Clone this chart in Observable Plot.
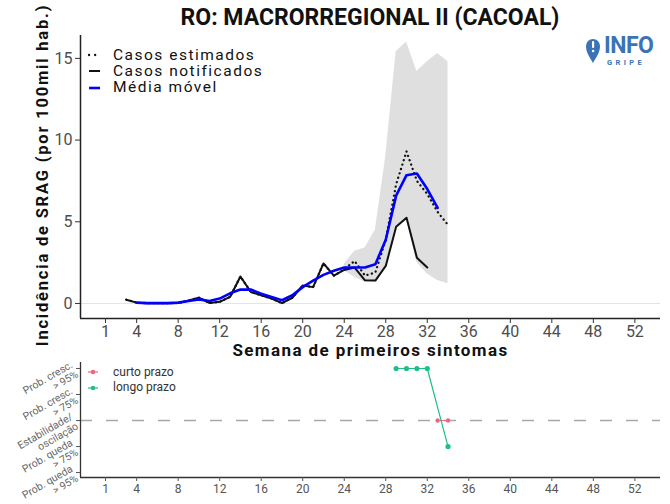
<!DOCTYPE html>
<html><head><meta charset="utf-8">
<script src="https://cdn.jsdelivr.net/npm/d3@7"></script>
<script src="https://cdn.jsdelivr.net/npm/@observablehq/plot@0.6"></script>
<style>
body{margin:0;background:#fff;font-family:Roboto,sans-serif;}
#wrap{position:relative;width:670px;height:504px;overflow:hidden;background:#fff;}
.abs{position:absolute;}
#title{left:120px;width:500px;top:5px;text-align:center;font:700 23px Roboto;line-height:26px;color:#111;white-space:nowrap;}
.leg{font:400 15.5px Roboto;line-height:15px;color:#111;white-space:nowrap;letter-spacing:1.5px;}
.leg2{font:400 12px Roboto;line-height:13px;color:#333;white-space:nowrap;}
</style></head><body><div id="wrap">
<div id="main" class="abs" style="left:0;top:0"></div>
<div id="bot" class="abs" style="left:0;top:355px"></div>
<div id="title" class="abs">RO: MACRORREGIONAL II (CACOAL)</div>
<div id="legend" class="abs" style="left:86px;top:47px"></div>
<div id="legend2" class="abs" style="left:86px;top:365px"></div>
<div id="logo" class="abs" style="left:585px;top:36px;width:80px;height:32px"></div>
</div>
<script>
// ---------- data ----------
const notifWeeks = [3,4,5,6,7,8,9,10,11,12,13,14,15,16,17,18,19,20,21,22,23,24,25,26,27,28,29,30,31,32];
const notifVals  = [0.23,0.05,0.02,0.02,0.02,0.03,0.18,0.35,0.03,0.1,0.4,1.65,0.7,0.5,0.3,0.02,0.35,1.1,1.0,2.45,1.7,2.05,2.2,1.42,1.4,2.3,4.7,5.25,2.8,2.2];
const estWeeks = [3,4,5,6,7,8,9,10,11,12,13,14,15,16,17,18,19,20,21,22,23,24,25,26,27,28,29,30,31,32,33,34];
const estVals  = [0.23,0.05,0.02,0.02,0.02,0.03,0.18,0.35,0.03,0.1,0.4,1.65,0.7,0.5,0.3,0.02,0.35,1.1,1.0,2.45,1.7,2.1,2.6,1.7,1.9,3.9,7.3,9.3,7.5,6.7,5.6,4.8];
const maWeeks = [4,5,6,7,8,9,10,11,12,13,14,15,16,17,18,19,20,21,22,23,24,25,26,27,28,29,30,31,32,33];
const maVals  = [0.05,0.02,0.02,0.02,0.05,0.15,0.25,0.15,0.3,0.62,0.85,0.85,0.6,0.4,0.2,0.5,1.0,1.4,1.75,2.0,2.2,2.2,2.2,2.4,3.9,6.6,7.85,7.95,7.0,5.85];
const ciWeeks = [24,25,26,27,28,29,30,31,32,33,34];
const ciLower = [2.0,1.6,1.3,1.3,2.3,4.7,5.25,2.5,1.8,1.4,1.2];
const ciUpper = [2.4,3.2,3.4,4.5,9.0,15.4,16.0,14.2,14.8,15.3,14.8];
const xTicks = [1,4,8,12,16,20,24,28,32,36,40,44,48,52];
const yTicks = [0,5,10,15];
// trend panel
const trendLevels = [2,1,0,-1,-2];
const trendLabels = ["Prob. cresc.\n> 95%","Prob. cresc.\n> 75%","Estabilidade/\noscilação","Prob. queda\n> 75%","Prob. queda\n> 95%"];
const longWeeks = [29,30,31,32,34];
const longLevels = [2,2,2,2,-1];
const shortWeeks = [33,34];
const shortLevels = [0,0];

const seriesNames = ["Casos estimados","Casos notificados","Média móvel"];
const trendNames = ["curto prazo","longo prazo"];
const xTitle = "Semana de primeiros sintomas";
const yTitle = "Incidência de SRAG (por 100mil hab.)";
const colShort = "#F0657E", colLong = "#1DBE8A";

// ---------- rows ----------
const notRows = notifWeeks.map((w,i)=>({w, v:notifVals[i]}));
const estRows = estWeeks.map((w,i)=>({w, v:estVals[i]}));
const maRows = maWeeks.map((w,i)=>({w, v:maVals[i]}));
const ciRows = ciWeeks.map((w,i)=>({w, lo:ciLower[i], hi:ciUpper[i]}));
const longRows = longWeeks.map((w,i)=>({w, l:longLevels[i]}));
const shortRows = shortWeeks.map((w,i)=>({w, l:shortLevels[i]}));

const xDom = [-1.41, 54.47];
const yDom = [-0.92, 16.4];

const main = Plot.plot({
  width:670, height:360, marginLeft:80, marginRight:10, marginTop:35, marginBottom:42,
  x:{domain:xDom}, y:{domain:yDom},
  style:{fontFamily:"Roboto", fontSize:"16px", background:"transparent", overflow:"visible"},
  marks:[
    Plot.ruleY([0], {stroke:"#e3e3e3", strokeWidth:1}),
    Plot.areaY(ciRows, {x:"w", y1:"lo", y2:"hi", fill:"#c4c4c4", fillOpacity:0.55}),
    Plot.lineY(notRows, {x:"w", y:"v", stroke:"#111", strokeWidth:2}),
    Plot.lineY(estRows, {x:"w", y:"v", stroke:"#111", strokeWidth:2.3, strokeDasharray:"0.1,4.5", strokeLinecap:"round"}),
    Plot.lineY(maRows, {x:"w", y:"v", stroke:"#0000ff", strokeWidth:2.6}),
    Plot.ruleX([xDom[0]], {stroke:"#222", strokeWidth:1.5}),
    Plot.ruleY([yDom[0]], {stroke:"#222", strokeWidth:1.5}),
    Plot.axisX({ticks:xTicks, tickSize:5, tickPadding:2, label:null, fill:"#4d4d4d", stroke:"#333", fontSize:16}),
    Plot.axisY({ticks:yTicks, tickSize:5, tickPadding:3, label:null, fill:"#4d4d4d", stroke:"#333", fontSize:16}),
    Plot.text([xTitle], {frameAnchor:"bottom", dy:32, text:d=>d, fontSize:17, fontWeight:"bold", fill:"#111", lineAnchor:"middle"}),
    Plot.text([yTitle], {frameAnchor:"left", dx:-38, dy:-2, rotate:-90, textAnchor:"middle", text:d=>d, fontSize:16.5, fontWeight:"bold", fill:"#111"})
  ]
});
d3.select(main).selectAll("text").each(function(){
  const t = this.textContent;
  if (t === xTitle) this.setAttribute("letter-spacing", "1.4");
  if (t === yTitle) this.setAttribute("letter-spacing", "1.8");
});
document.getElementById("main").appendChild(main);

const bot = Plot.plot({
  width:670, height:149, marginLeft:80, marginRight:10, marginTop:7, marginBottom:27,
  x:{domain:xDom}, y:{domain:[-2.19, 2.23]},
  style:{fontFamily:"Roboto", fontSize:"12px", background:"transparent", overflow:"visible"},
  marks:[
    Plot.ruleY([0], {stroke:"#a8a8a8", strokeWidth:1.4, strokeDasharray:"12,14"}),
    Plot.line(shortRows, {x:"w", y:"l", stroke:colShort, strokeWidth:1.2}),
    Plot.dot(shortRows, {x:"w", y:"l", fill:colShort, r:2.2}),
    Plot.line(longRows, {x:"w", y:"l", stroke:colLong, strokeWidth:1.2}),
    Plot.dot(longRows, {x:"w", y:"l", fill:colLong, r:2.6}),
    Plot.ruleX([xDom[0]], {stroke:"#333", strokeWidth:1.3}),
    Plot.ruleY([-2.19], {stroke:"#333", strokeWidth:1.3}),
    Plot.axisX({ticks:xTicks, tickSize:4, tickPadding:3, label:null, fill:"#555", stroke:"#555", fontSize:12}),
    Plot.axisY({ticks:trendLevels, tickFormat:(d)=>trendLabels[trendLevels.indexOf(d)], tickSize:4, tickPadding:2, tickRotate:-30, label:null, fill:"#666", stroke:"#555", fontSize:10.5, lineHeight:1.05})
  ]
});
document.getElementById("bot").appendChild(bot);

// legend main
const leg = document.getElementById("legend");
const keys = [
  `<line x1="3" y1="8" x2="13" y2="8" stroke="#111" stroke-width="2.3" stroke-dasharray="0.1,6" stroke-linecap="round"/>`,
  `<line x1="3" y1="8" x2="14" y2="8" stroke="#111" stroke-width="2"/>`,
  `<line x1="3" y1="8" x2="14" y2="8" stroke="#0000ff" stroke-width="2.6"/>`
];
seriesNames.forEach((n,i)=>{
  const row = document.createElement("div");
  row.style.cssText = `position:absolute;left:0;top:${i*16.4}px;height:16px;display:flex;align-items:center;`;
  row.innerHTML = `<svg width="27" height="16" style="flex:none">${keys[i]}</svg><span class="leg">${n}</span>`;
  leg.appendChild(row);
});
// legend trend
const leg2 = document.getElementById("legend2");
[colShort,colLong].forEach((c,i)=>{
  const row = document.createElement("div");
  row.style.cssText = `position:absolute;left:0;top:${i*15.5}px;height:14px;display:flex;align-items:center;`;
  row.innerHTML = `<svg width="27" height="14" style="flex:none"><line x1="2" y1="7" x2="12" y2="7" stroke="${c}" stroke-width="1.2"/><circle cx="7" cy="7" r="2.2" fill="${c}"/></svg><span class="leg2">${trendNames[i]}</span>`;
  leg2.appendChild(row);
});
// logo
document.getElementById("logo").innerHTML = `
<svg width="18" height="30" style="position:absolute;left:0;top:0">
 <path d="M8 27 C 4 20, 1 16, 1 10 A 7 7 0 0 1 15 10 C 15 16, 12 20, 8 27 Z" fill="#3a73b8"/>
 <rect x="7" y="5" width="2.2" height="7" rx="1" fill="#fff"/>
 <circle cx="8.1" cy="15" r="1.3" fill="#fff"/>
</svg>
<div style="position:absolute;left:19px;top:1px;font:700 23px Roboto;line-height:18px;color:#3a73b8;letter-spacing:-0.5px">INFO</div>
<div style="position:absolute;left:22px;top:23px;font:700 7.5px Roboto;line-height:8px;color:#3a73b8;letter-spacing:3.4px">GRIPE</div>`;
</script>
</body></html>
